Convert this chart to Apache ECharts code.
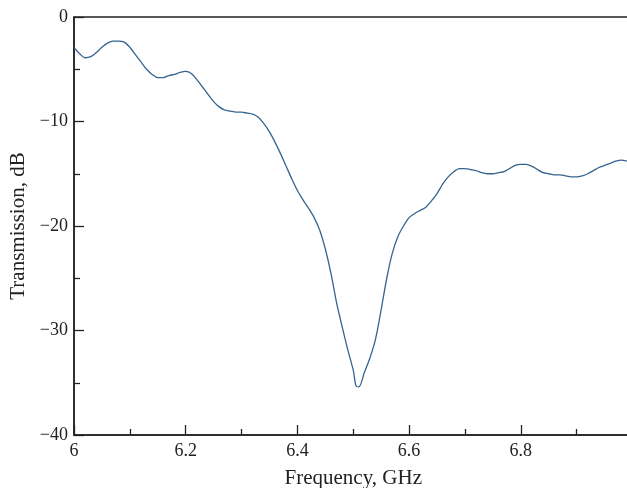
<!DOCTYPE html>
<html><head><meta charset="utf-8">
<script src="https://cdn.jsdelivr.net/npm/echarts@6/dist/echarts.min.js"></script>
<style>html,body{margin:0;padding:0;background:#fff}#c{width:627px;height:488px}</style>
</head><body><div id="c"></div>
<script>
const freqGHz = [6.00,6.01,6.02,6.03,6.04,6.05,6.06,6.07,6.08,6.09,6.10,6.11,6.12,6.13,6.14,6.15,6.16,6.17,6.18,6.19,6.20,6.21,6.22,6.23,6.24,6.25,6.26,6.27,6.28,6.29,6.30,6.31,6.32,6.33,6.34,6.35,6.36,6.37,6.38,6.39,6.40,6.41,6.42,6.43,6.44,6.45,6.46,6.47,6.48,6.49,6.50,6.505,6.51,6.52,6.53,6.54,6.55,6.56,6.57,6.58,6.59,6.60,6.61,6.62,6.63,6.64,6.65,6.66,6.67,6.68,6.69,6.70,6.71,6.72,6.73,6.74,6.75,6.76,6.77,6.78,6.79,6.80,6.81,6.82,6.83,6.84,6.85,6.86,6.87,6.88,6.89,6.90,6.91,6.92,6.93,6.94,6.95,6.96,6.97,6.98,6.99];
const transmissionDb = [-2.9,-3.5,-3.9,-3.8,-3.4,-2.9,-2.5,-2.3,-2.3,-2.4,-2.9,-3.6,-4.3,-5.0,-5.5,-5.8,-5.8,-5.6,-5.5,-5.3,-5.2,-5.4,-6.0,-6.7,-7.4,-8.1,-8.6,-8.9,-9.0,-9.1,-9.1,-9.2,-9.3,-9.6,-10.2,-11.0,-12.0,-13.1,-14.3,-15.5,-16.6,-17.5,-18.3,-19.2,-20.4,-22.2,-24.5,-27.3,-29.6,-31.8,-33.8,-35.3,-35.4,-34.0,-32.6,-30.8,-28.0,-25.0,-22.6,-21.0,-20.0,-19.2,-18.8,-18.5,-18.2,-17.6,-16.9,-16.0,-15.3,-14.8,-14.5,-14.5,-14.6,-14.7,-14.9,-15.0,-15.0,-14.9,-14.8,-14.5,-14.2,-14.1,-14.1,-14.3,-14.6,-14.9,-15.0,-15.1,-15.1,-15.2,-15.3,-15.3,-15.2,-15.0,-14.7,-14.4,-14.2,-14.0,-13.8,-13.7,-13.8];
const xLabel = 'Frequency, GHz';
const yLabel = 'Transmission, dB';

const chart = echarts.init(document.getElementById('c'), null, {renderer:'canvas'});
const font = 'Liberation Serif';
chart.setOption({
  animation:false,
  backgroundColor:'#fff',
  grid:{left:74, top:17, right:-5.5, bottom:53, containLabel:false, outerBoundsMode:'none',
        show:true, borderColor:'#222', borderWidth:1.5, backgroundColor:'transparent'},
  xAxis:{
    type:'value', min:6, max:7, interval:0.2,
    name:xLabel, nameLocation:'middle', nameGap:33,
    nameTextStyle:{fontFamily:font, fontSize:21, color:'#222'},
    axisLine:{onZero:false, lineStyle:{color:'#222', width:1.5}},
    axisTick:{inside:true, length:10, lineStyle:{color:'#222', width:1.3}},
    minorTick:{show:true, splitNumber:2, length:6, lineStyle:{color:'#222', width:1.3}},
    axisLabel:{fontFamily:font, fontSize:18, color:'#222', margin:7,
      formatter:v=>v>6.99?'':String(+v.toFixed(1))},
    splitLine:{show:false}
  },
  yAxis:{
    type:'value', min:-40, max:0, interval:10,
    name:yLabel, nameLocation:'middle', nameGap:34,
    nameTextStyle:{fontFamily:font, fontSize:21, color:'#222'},
    axisLine:{show:true, onZero:false, lineStyle:{color:'#222', width:1.5}},
    axisTick:{show:true, inside:true, length:10, lineStyle:{color:'#222', width:1.3}},
    minorTick:{show:true, splitNumber:2, length:6, lineStyle:{color:'#222', width:1.3}},
    axisLabel:{fontFamily:font, fontSize:18, color:'#222', margin:6,
      formatter:v=>v<0?'\u2212'+Math.abs(v):String(v)},
    splitLine:{show:false}
  },
  series:[{
    type:'line', showSymbol:false, smooth:0.3,
    data:freqGHz.map((f,i)=>[f, transmissionDb[i]]),
    lineStyle:{color:'#34648f', width:1.3}
  }]
});
</script></body></html>
